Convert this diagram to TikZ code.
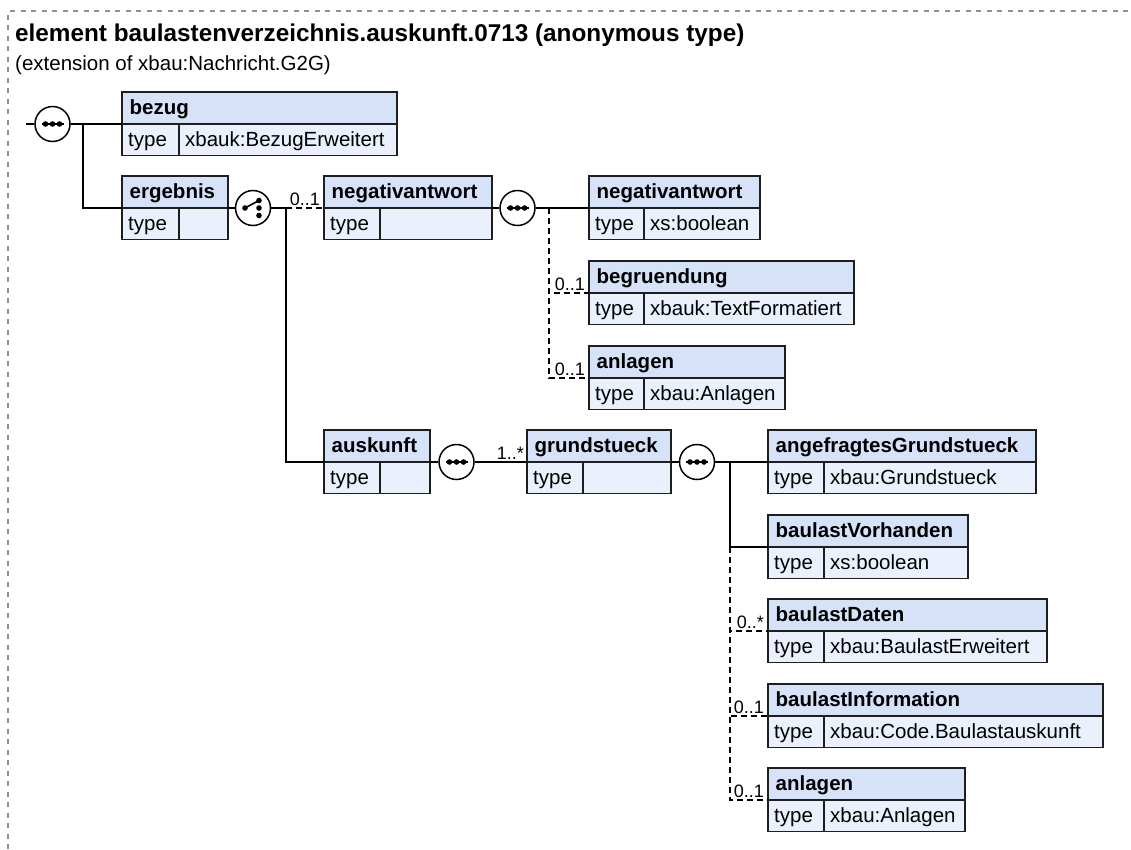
\documentclass[tikz,border=0pt]{standalone}
\usepackage{fontspec}
\setmainfont{Liberation Sans}
\definecolor{hdr}{RGB}{214,226,248}
\definecolor{bdy}{RGB}{234,241,252}
\definecolor{bordc}{RGB}{30,30,30}
\definecolor{framec}{RGB}{145,145,145}
\tikzset{
  nm/.style={font=\fontsize{20.5}{24}\selectfont\bfseries, inner sep=0pt, text=black},
  tp/.style={font=\fontsize{20.5}{24}\selectfont, inner sep=0pt, text=black},
  mult/.style={font=\fontsize{18}{22}\selectfont, inner sep=0pt, text=black},
  bline/.style={draw=bordc, line width=1.5pt},
  conn/.style={draw=black, line width=1.4pt},
  opt/.style={draw=black, line width=1.4pt, dash pattern=on 6pt off 4pt},
  symnode/.style={circle, draw=black, fill=white, line width=1.5pt, minimum size=35pt, inner sep=0pt},
  framestyle/.style={draw=framec, line width=1.1pt, dash pattern=on 5pt off 5.5pt}
}
\newcommand{\elembox}[7]{%
  \fill[hdr] (#2,#3) rectangle (#4,#3+32);
  \fill[bdy] (#2,#3+32) rectangle (#4,#3+63.5);
  \draw[bline] (#2,#3+32) -- (#4,#3+32) (#5,#3+32) -- (#5,#3+63.5);
  \node[draw=bordc, line width=1.7pt, inner sep=0pt, outer sep=0pt,
        minimum width={(#4-#2)*1pt}, minimum height=63.5pt, anchor=north west] (#1) at (#2,#3) {};
  \coordinate (#1-in) at (#2,#3+32);
  \coordinate (#1-out) at (#4,#3+32);
  \node[nm, anchor=base west] (#1-name) at (#2+7.5,#3+22) {#6};
  \node[tp, anchor=base west] (#1-type) at (#2+6,#3+54) {type};
  \node[tp, anchor=base west] (#1-val) at (#5+6,#3+54) {#7};
}
\newcommand{\seqsym}[3]{%
  \node[symnode] (#1) at (#2,#3) {};
  \draw[line width=1.6pt] (#2-11,#3) -- (#2+11,#3);
  \fill (#2-7,#3) circle (2.8pt) (#2,#3) circle (2.8pt) (#2+7,#3) circle (2.8pt);
}
\newcommand{\choicesym}[3]{%
  \node[symnode] (#1) at (#2,#3) {};
  \draw[line width=1.6pt] (#2-8,#3) -- (#2+6,#3-7.5);
  \fill (#2-8,#3) circle (2.8pt) (#2+6,#3-7.5) circle (2.8pt) (#2+6,#3) circle (2.8pt) (#2+6,#3+7.5) circle (2.8pt);
}
\begin{document}
\begin{tikzpicture}[x=1pt,y=-1pt]
\useasboundingbox (0,0) rectangle (1131,849);
\fill[white] (0,0) rectangle (1131,849);
% frame
\coordinate (fr1) at (1128,11);
\coordinate (fr2) at (8,11);
\coordinate (fr3) at (8,849);
\draw[framestyle] (fr1) -- (fr2) -- (fr3);
% titles
\node[font=\fontsize{24.3}{28}\selectfont\bfseries, inner sep=0pt, anchor=base west] (title) at (15,41) {element baulastenverzeichnis.auskunft.0713 (anonymous type)};
\node[font=\fontsize{20.5}{24}\selectfont, inner sep=0pt, anchor=base west] (subtitle) at (15,70) {(extension of xbau:Nachricht.G2G)};

% element boxes
\elembox{bezug}{122}{92}{397}{179}{bezug}{xbauk:BezugErweitert}
\elembox{ergebnis}{122}{176}{228}{179}{ergebnis}{}
\elembox{negA}{324}{176}{492}{380}{negativantwort}{}
\elembox{negB}{589}{176}{760}{644}{negativantwort}{xs:boolean}
\elembox{begr}{589}{261}{854}{644}{begruendung}{xbauk:TextFormatiert}
\elembox{anlA}{589}{346}{785}{644}{anlagen}{xbau:Anlagen}
\elembox{ausk}{324}{430}{430}{380}{auskunft}{}
\elembox{grund}{527}{430}{671}{583}{grundstueck}{}
\elembox{angef}{768}{430}{1036}{824}{angefragtesGrundstueck}{xbau:Grundstueck}
\elembox{bvorh}{768}{515}{968}{824}{baulastVorhanden}{xs:boolean}
\elembox{bdaten}{768}{599}{1047}{824}{baulastDaten}{xbau:BaulastErweitert}
\elembox{binfo}{768}{684}{1103}{824}{baulastInformation}{xbau:Code.Baulastauskunft}
\elembox{anlB}{768}{768}{965}{824}{anlagen}{xbau:Anlagen}

% compositor symbols
\seqsym{s0}{52.5}{124}
\choicesym{ch}{253}{208}
\seqsym{s1}{517.5}{208}
\seqsym{s2}{456.5}{462}
\seqsym{s3}{697}{462}

% connectors
\coordinate (start) at (26,124);
\draw[conn] (start) -- (s0.west);
\draw[conn] (s0.east) -- (bezug-in);
\coordinate (j0) at (83,124);
\draw[conn] (j0) |- (ergebnis-in);
\draw[conn] (ergebnis-out) -- (ch.west);
\coordinate (j1) at (286,208);
\draw[conn] (ch.east) -- (j1) |- (ausk-in);
\draw[opt] (j1) -- (negA-in);
\draw[conn] (negA-out) -- (s1.west);
\draw[conn] (s1.east) -- (negB-in);
\coordinate (j2) at (549,208);
\draw[opt] (j2) |- (begr-in);
\draw[opt] (j2) |- (anlA-in);
\draw[conn] (ausk-out) -- (s2.west);
\draw[conn] (s2.east) -- (grund-in);
\draw[conn] (grund-out) -- (s3.west);
\draw[conn] (s3.east) -- (angef-in);
\coordinate (j3) at (730,462);
\draw[conn] (j3) |- (bvorh-in);
\coordinate (j4) at (730,547);
\draw[opt] (j4) |- (bdaten-in);
\draw[opt] (j4) |- (binfo-in);
\draw[opt] (j4) |- (anlB-in);

% multiplicities
\node[mult, anchor=base east] (m1) at (320,205) {0..1};
\node[mult, anchor=base east] (m2) at (585,290) {0..1};
\node[mult, anchor=base east] (m3) at (585,375) {0..1};
\node[mult, anchor=base east] (m4) at (524,459) {1..*};
\node[mult, anchor=base east] (m5) at (764,628) {0..*};
\node[mult, anchor=base east] (m6) at (764,713) {0..1};
\node[mult, anchor=base east] (m7) at (764,797) {0..1};
\end{tikzpicture}
\end{document}
